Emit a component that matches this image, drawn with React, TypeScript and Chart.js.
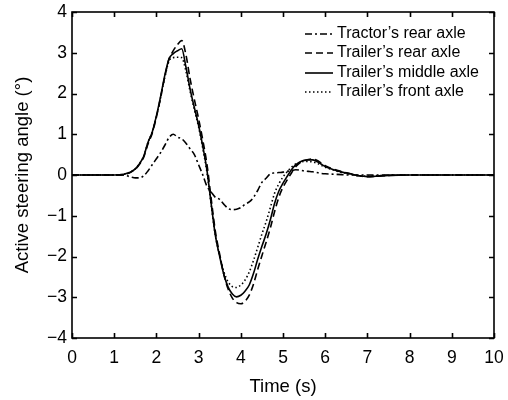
import React, { useEffect, useRef } from "react";
import { Chart, registerables } from "chart.js";

Chart.register(...registerables);

const time = [0, 1.0, 1.2, 1.3, 1.4, 1.5, 1.6, 1.7, 1.8, 1.9, 2.0, 2.1, 2.2, 2.3, 2.4, 2.5, 2.6, 2.7, 2.8, 2.9, 3.0, 3.1, 3.2, 3.3, 3.4, 3.5, 3.6, 3.7, 3.8, 3.9, 4.0, 4.1, 4.2, 4.3, 4.4, 4.5, 4.6, 4.7, 4.8, 4.9, 5.0, 5.1, 5.2, 5.3, 5.4, 5.5, 5.6, 5.7, 5.8, 5.9, 6.0, 6.2, 6.4, 6.6, 6.8, 7.0, 7.2, 7.5, 8.0, 10];

const tractorRear = [0, 0, 0, -0.02, -0.05, -0.07, -0.07, -0.02, 0.1, 0.25, 0.4, 0.55, 0.73, 0.92, 1.0, 0.93, 0.89, 0.78, 0.64, 0.5, 0.25, 0.0, -0.28, -0.42, -0.55, -0.6, -0.72, -0.82, -0.85, -0.84, -0.8, -0.72, -0.66, -0.55, -0.38, -0.18, -0.08, 0.03, 0.05, 0.06, 0.07, 0.09, 0.11, 0.13, 0.12, 0.1, 0.09, 0.08, 0.06, 0.04, 0.03, 0.02, 0.01, 0, 0, 0, 0, 0, 0, 0];

const trailerRear = [0, 0, 0.01, 0.03, 0.07, 0.14, 0.26, 0.44, 0.76, 1.02, 1.42, 1.9, 2.42, 2.85, 3.05, 3.2, 3.3, 2.95, 2.35, 1.85, 1.38, 0.85, 0.25, -0.6, -1.4, -1.95, -2.45, -2.8, -3.02, -3.13, -3.16, -3.1, -2.95, -2.68, -2.32, -1.98, -1.65, -1.3, -0.9, -0.55, -0.3, -0.12, 0.05, 0.2, 0.3, 0.35, 0.38, 0.39, 0.36, 0.3, 0.23, 0.14, 0.08, 0.03, -0.02, -0.04, -0.03, -0.01, 0, 0];

const trailerMiddle = [0, 0, 0.01, 0.04, 0.08, 0.15, 0.28, 0.46, 0.8, 1.05, 1.45, 1.93, 2.45, 2.85, 2.98, 3.05, 3.1, 2.65, 2.1, 1.65, 1.22, 0.7, 0.1, -0.72, -1.5, -2.0, -2.45, -2.75, -2.92, -2.99, -2.95, -2.85, -2.7, -2.42, -2.07, -1.75, -1.45, -1.1, -0.7, -0.4, -0.2, -0.03, 0.13, 0.25, 0.32, 0.36, 0.37, 0.37, 0.33, 0.27, 0.21, 0.13, 0.07, 0.03, -0.02, -0.04, -0.03, -0.01, 0, 0];

const trailerFront = [0, 0, 0.01, 0.04, 0.08, 0.15, 0.28, 0.46, 0.8, 1.05, 1.43, 1.9, 2.4, 2.8, 2.88, 2.89, 2.88, 2.55, 2.05, 1.6, 1.18, 0.65, 0.05, -0.75, -1.5, -1.98, -2.38, -2.62, -2.74, -2.76, -2.7, -2.58, -2.38, -2.1, -1.78, -1.45, -1.15, -0.8, -0.45, -0.22, -0.05, 0.08, 0.19, 0.27, 0.31, 0.33, 0.33, 0.32, 0.29, 0.24, 0.19, 0.12, 0.06, 0.02, -0.02, -0.03, -0.02, -0.01, 0, 0];

const seriesLabels = ["Tractor\u2019s rear axle", "Trailer\u2019s rear axle", "Trailer\u2019s middle axle", "Trailer\u2019s front axle"];
const seriesDashes = [[7, 3, 2, 3], [7, 4], [], [1.5, 2.5]];
const xTitle = "Time (s)";
const yTitle = "Active steering angle (\u00b0)";

const FONT = "'Liberation Sans', Arial, sans-serif";

const framePlugin = {
  id: "frameTicks",
  afterDraw(chart: any) {
    const { ctx, chartArea } = chart;
    const { left, right, top, bottom } = chartArea;
    const xs = chart.scales.x;
    const ys = chart.scales.y;
    ctx.save();
    ctx.strokeStyle = "#000";
    ctx.lineWidth = 1.6;
    ctx.setLineDash([]);
    ctx.strokeRect(left, top, right - left, bottom - top);
    const L = 5;
    ctx.beginPath();
    xs.ticks.forEach((t: any) => {
      const px = Math.round(xs.getPixelForValue(t.value)) + 0.5;
      ctx.moveTo(px, bottom);
      ctx.lineTo(px, bottom - L);
      ctx.moveTo(px, top);
      ctx.lineTo(px, top + L);
    });
    ys.ticks.forEach((t: any) => {
      const py = Math.round(ys.getPixelForValue(t.value)) + 0.5;
      ctx.moveTo(left, py);
      ctx.lineTo(left + L, py);
      ctx.moveTo(right, py);
      ctx.lineTo(right - L, py);
    });
    ctx.stroke();

    // legend
    const rows = [34, 53, 73, 92];
    ctx.font = `16px ${FONT}`;
    ctx.textBaseline = "middle";
    ctx.fillStyle = "#000";
    chart.data.datasets.forEach((ds: any, i: number) => {
      const y = rows[i];
      ctx.beginPath();
      ctx.lineWidth = 1.6;
      ctx.setLineDash(ds.borderDash || []);
      ctx.moveTo(305, y);
      ctx.lineTo(333, y);
      ctx.stroke();
      ctx.setLineDash([]);
      ctx.fillText(ds.label, 337, y);
    });
    ctx.restore();
  },
};

export default function App() {
  const ref = useRef<HTMLCanvasElement>(null);
  useEffect(() => {
    if (!ref.current) return;
    const allSeries = [tractorRear, trailerRear, trailerMiddle, trailerFront];
    const chart = new Chart(ref.current, {
      type: "line",
      data: {
        datasets: allSeries.map((s, i) => ({
          label: seriesLabels[i],
          data: time.map((t, k) => ({ x: t, y: s[k] })),
          borderColor: "#000",
          backgroundColor: "#000",
          borderWidth: 1.6,
          borderDash: seriesDashes[i],
          pointRadius: 0,
          cubicInterpolationMode: "monotone" as const,
          fill: false,
        })),
      },
      options: {
        responsive: false,
        animation: false,
        maintainAspectRatio: false,
        layout: { padding: { left: 0, top: 12, right: 14, bottom: 0 } },
        plugins: { legend: { display: false }, tooltip: { enabled: false } },
        scales: {
          x: {
            type: "linear",
            min: 0,
            max: 10,
            grid: { display: false, drawTicks: false },
            border: { display: false },
            ticks: { stepSize: 1, padding: 10, color: "#000", font: { family: FONT, size: 17.5 } },
            title: { display: true, text: xTitle, color: "#000", font: { family: FONT, size: 18.5 }, padding: { top: 0, bottom: 2 } },
            afterFit: (s: any) => { s.height = 62; s.paddingLeft = 0; s.paddingRight = 0; },
          },
          y: {
            type: "linear",
            min: -4,
            max: 4,
            grid: { display: false, drawTicks: false },
            border: { display: false },
            ticks: {
              stepSize: 1,
              padding: 5,
              color: "#000",
              font: { family: FONT, size: 17.5 },
              callback: (v: any) => (Number(v) < 0 ? "\u2212" + Math.abs(Number(v)) : String(v)),
            },
            title: { display: true, text: yTitle, color: "#000", font: { family: FONT, size: 18.5 }, padding: { top: 12, bottom: 0 } },
            afterFit: (s: any) => { s.width = 72; s.paddingTop = 0; s.paddingBottom = 0; },
          },
        },
      },
      plugins: [framePlugin],
    });
    return () => chart.destroy();
  }, []);
  return (
    <div style={{ position: "fixed", left: 0, top: 0, width: 508, height: 400, background: "#fff" }}>
      <canvas ref={ref} width={508} height={400} style={{ width: 508, height: 400 }} />
    </div>
  );
}
